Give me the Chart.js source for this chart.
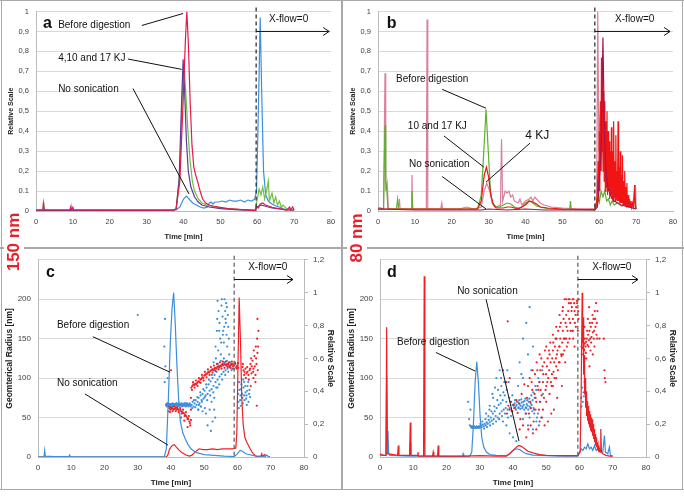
<!DOCTYPE html>
<html><head><meta charset="utf-8">
<script src="https://cdn.jsdelivr.net/npm/chart.js@4.4.1/dist/chart.umd.min.js"></script>
<style>
body{margin:0;background:#fff;width:684px;height:496px;position:relative;overflow:hidden;font-family:"Liberation Sans",Arial,sans-serif}
canvas{position:absolute}
.ln{position:absolute;background:#a9a9a9}
.tag{position:absolute;color:#e8202a;font-weight:bold;font-size:17px;background:#fff;transform:rotate(-90deg);white-space:nowrap;line-height:20px;height:20px;text-align:center}
</style></head><body>
<canvas id="ca" width="342" height="248" style="left:0;top:0"></canvas>
<canvas id="cb" width="342" height="248" style="left:342px;top:0"></canvas>
<canvas id="cc" width="342" height="248" style="left:0;top:248px"></canvas>
<canvas id="cd" width="342" height="248" style="left:342px;top:248px"></canvas>
<div class="ln" style="left:0;top:0;width:684px;height:1px"></div>
<div class="ln" style="left:1px;top:0;width:1px;height:489px"></div>
<div class="ln" style="left:682px;top:0;width:1px;height:489px"></div>
<div class="ln" style="left:0;top:489px;width:684px;height:1px"></div>
<div class="ln" style="left:341px;top:0;width:2px;height:489px"></div>
<div class="ln" style="left:0;top:247px;width:684px;height:2px"></div>
<div class="tag" style="left:-18px;top:232px;width:64px">150 nm</div>
<div class="tag" style="left:332px;top:228px;width:50px">80 nm</div>
<script>
// axis tick labels
const timeTicks = ['0', '10', '20', '30', '40', '50', '60', '70', '80'];
const relTicks = ['0', '0.1', '0,2', '0,3', '0,4', '0,5', '0,6', '0,7', '0,8', '0,9', '1'];
const rel2Ticks = ['0', '0,2', '0,4', '0,6', '0,8', '1', '1,2'];
const radiusTicks = ['0', '50', '100', '150', '200', ''];

// panel a: relative scale, 150 nm
const aRed = [[0,0.005],[1.8,0.005],[2,0.04],[2.2,0.01],[2.5,0.005],[9.2,0.005],[9.4,0.02],[9.6,0.005],[10,0.018],[10.2,0.005],[20,0.004],[30,0.004],[37,0.004],[38,0.01],[39,0.15],[39.8,0.5],[40.5,0.85],[40.9,1.0],[41.3,0.85],[41.8,0.55],[42.3,0.33],[42.8,0.22],[43.3,0.18],[43.8,0.15],[44.5,0.1],[45.2,0.06],[46,0.04],[47,0.03],[48,0.025],[50,0.018],[52,0.012],[55,0.008],[58,0.004],[59.5,0.003],[59.7,0.02],[60.3,0.015],[60.8,0.035],[61.5,0.04],[62.2,0.03],[63,0.025],[64,0.018],[65,0.015],[66,0.012],[67,0.008],[68,0.005],[68.8,0.02],[69,0.005],[69.6,0.02],[70,0.005]];
const aPurple = [[0,0.003],[37,0.003],[38,0.01],[38.8,0.15],[39.4,0.5],[39.9,0.76],[40.3,0.6],[40.8,0.35],[41.3,0.2],[42,0.12],[43,0.07],[44,0.045],[45,0.03],[47,0.02],[50,0.012],[55,0.006],[59.5,0.003],[60,0.02],[61,0.03],[62,0.025],[63,0.02],[64,0.015],[66,0.01],[68,0.005],[70,0.004]];
const aGreen = [[0,0.004],[1.9,0.004],[2.1,0.045],[2.3,0.005],[9.5,0.005],[9.7,0.02],[9.9,0.005],[37,0.004],[38,0.01],[39,0.2],[39.7,0.6],[40.2,0.72],[40.6,0.6],[41.2,0.4],[41.8,0.25],[42.4,0.15],[43,0.1],[44,0.06],[45,0.04],[47,0.025],[50,0.015],[55,0.008],[59.5,0.004],[60,0.06],[60.5,0.11],[61,0.08],[61.5,0.12],[62,0.06],[62.5,0.1],[63,0.15],[63.3,0.05],[64,0.09],[64.5,0.04],[65,0.07],[65.5,0.03],[66,0.05],[66.5,0.02],[67,0.03],[68,0.01],[70,0.005]];
const aBlue = [[0,0.003],[37,0.003],[38,0.005],[39,0.02],[40,0.06],[40.8,0.075],[41.5,0.06],[42.5,0.04],[43.5,0.03],[44.5,0.02],[45.5,0.015],[46.5,0.02],[47,0.04],[47.5,0.045],[48,0.035],[48.5,0.045],[49.5,0.045],[50.5,0.05],[51.5,0.045],[52.5,0.055],[53.5,0.05],[54.5,0.05],[55.5,0.055],[56.5,0.045],[57.5,0.055],[58.5,0.05],[59.3,0.06],[59.8,0.1],[60.3,0.5],[60.8,0.97],[61.2,0.6],[61.7,0.2],[62.3,0.08],[63,0.05],[64,0.035],[65,0.025],[66,0.02],[67,0.012],[67.8,0.005]];

// panel b: relative scale, 80 nm
const bGreen = [[0,0.01],[1.5,0.01],[1.9,0.43],[2.1,0.15],[2.4,0.1],[2.7,0.01],[5,0.01],[5.3,0.06],[5.6,0.01],[9,0.01],[9.2,0.1],[9.4,0.01],[15,0.01],[25,0.01],[27,0.01],[28,0.08],[28.7,0.3],[29.3,0.51],[29.9,0.3],[30.5,0.1],[31,0.04],[32,0.02],[33,0.02],[34,0.03],[35,0.04],[36,0.035],[37,0.02],[38,0.015],[39,0.02],[40,0.04],[41,0.05],[42,0.04],[43,0.025],[45,0.015],[47,0.01],[50,0.008],[52,0.01],[52.2,0.05],[52.4,0.008],[58.7,0.005],[59,0.03],[59.5,0.06],[60,0.04],[60.5,0.1],[61,0.07],[61.5,0.1],[62,0.05],[62.5,0.06],[63,0.03],[63.5,0.05],[64,0.03],[65,0.04],[66,0.025],[67,0.03],[68,0.02],[69,0.03],[69.7,0.05],[70,0.01]];
const bPink = [[0,0.02],[1.5,0.01],[1.9,0.69],[2.1,0.1],[2.5,0.14],[2.8,0.01],[5.5,0.01],[5.8,0.06],[6,0.01],[9,0.01],[9.2,0.18],[9.4,0.01],[13.1,0.01],[13.3,0.96],[13.5,0.01],[15,0.01],[17,0.01],[17.3,0.04],[17.5,0.01],[22,0.01],[24,0.02],[26,0.01],[28,0.02],[28.8,0.1],[29.5,0.14],[30.3,0.1],[31,0.04],[32,0.02],[33.2,0.03],[33.5,0.36],[33.8,0.05],[34.5,0.1],[35,0.09],[35.5,0.1],[36,0.07],[36.5,0.08],[37,0.05],[38,0.04],[38.5,0.06],[39,0.03],[40,0.05],[41,0.06],[41.5,0.07],[42,0.05],[42.5,0.07],[43,0.06],[44,0.04],[45,0.03],[47,0.02],[50,0.015],[55,0.01],[58.8,0.01],[59.3,0.05],[59.6,1.0],[59.9,0.3],[60.3,0.5],[60.6,0.2],[61,0.4],[61.5,0.15],[62,0.3],[62.5,0.1],[63,0.2],[63.5,0.08],[64,0.15],[65,0.06],[66,0.1],[67,0.04],[68,0.05],[69,0.02],[69.8,0.13],[70,0.01]];
const bRed = [[0,0.01],[5,0.01],[10,0.01],[20,0.01],[27,0.01],[28,0.05],[28.8,0.18],[29.4,0.22],[30,0.17],[30.6,0.08],[31.3,0.03],[32,0.015],[34,0.015],[35,0.02],[36,0.02],[37,0.015],[38,0.01],[39,0.02],[40,0.03],[41,0.05],[42,0.045],[43,0.035],[44,0.02],[46,0.015],[50,0.01],[55,0.008],[58.8,0.008],[59.3,0.03],[59.5,0.1],[59.7,0.25],[59.85,0.05],[60,0.4],[60.15,0.1],[60.3,0.55],[60.45,0.2],[60.6,0.77],[60.75,0.3],[60.9,0.7],[61.05,0.2],[61.2,0.6],[61.35,0.15],[61.5,0.55],[61.65,0.1],[61.8,0.45],[61.95,0.12],[62.1,0.5],[62.25,0.08],[62.4,0.4],[62.55,0.1],[62.7,0.35],[62.85,0.06],[63,0.3],[63.15,0.08],[63.3,0.42],[63.45,0.06],[63.6,0.3],[63.75,0.05],[63.9,0.45],[64.05,0.07],[64.2,0.25],[64.35,0.05],[64.5,0.38],[64.65,0.06],[64.8,0.2],[64.95,0.05],[65.1,0.45],[65.25,0.05],[65.4,0.22],[65.55,0.04],[65.7,0.3],[65.85,0.04],[66,0.18],[66.15,0.04],[66.3,0.28],[66.45,0.03],[66.6,0.15],[66.75,0.03],[66.9,0.2],[67.05,0.03],[67.2,0.12],[67.35,0.02],[67.5,0.14],[67.65,0.02],[67.8,0.08],[68,0.02],[68.2,0.06],[68.4,0.02],[68.6,0.05],[68.8,0.02],[69,0.04],[69.3,0.02],[69.6,0.13],[69.8,0.02],[70,0.01]];
const bDark = [[0,0.01],[10,0.005],[20,0.005],[28,0.005],[30,0.01],[35,0.005],[40,0.01],[45,0.005],[58.8,0.005],[59.5,0.02],[60.5,0.3],[61,0.87],[61.4,0.4],[61.8,0.2],[62.3,0.12],[63,0.08],[64,0.05],[66,0.03],[68,0.02],[70,0.01]];

// panel c: fractograms (relative scale) and radius (nm), 150 nm
const cBlue = [[0,0],[1.8,0.002],[2,0.04],[2.2,0.005],[5,0.002],[9.3,0.002],[9.5,0.012],[9.8,0.002],[20,0.001],[38,0.002],[38.6,0.05],[39.2,0.35],[39.8,0.7],[40.3,0.9],[40.8,1.0],[41.3,0.8],[41.8,0.55],[42.3,0.35],[42.8,0.22],[43.5,0.15],[44.3,0.11],[45,0.08],[46,0.05],[47,0.035],[48,0.025],[50,0.015],[53,0.01],[56,0.005],[59,0.003],[59.5,0.01],[60,0.02],[60.8,0.04],[61.5,0.035],[62.5,0.02],[63.5,0.015],[64.5,0.01],[66,0.005],[68,0.003],[68.8,0.012],[69.2,0.003],[69.8,0.002]];
const cRed = [[0,0],[38.5,0],[39,0.01],[39.6,0.05],[40.4,0.07],[41,0.075],[41.6,0.06],[42.5,0.04],[43.5,0.025],[44.5,0.012],[45.5,0.005],[46.2,0.01],[47,0.025],[47.8,0.04],[48.5,0.05],[49.5,0.045],[51,0.045],[52.5,0.05],[54,0.045],[55.5,0.05],[57,0.05],[58.5,0.05],[59.5,0.055],[59.8,0.15],[60.1,0.5],[60.5,0.97],[60.9,0.7],[61.3,0.35],[61.7,0.2],[62.2,0.12],[62.8,0.09],[63.3,0.07],[63.8,0.05],[64.4,0.03],[65,0.015],[65.5,0.005],[66,0.002],[67,0.005],[67.3,0.02],[67.5,0.003],[68.2,0.015],[68.5,0.002]];
const cBlueDots = [[38.5,66],[38.6,67],[38.7,64],[38.8,65],[38.9,68],[39,66],[39.1,66],[39.2,68],[39.3,65],[39.4,64],[39.5,67],[39.6,66],[39.7,66],[39.9,64],[40,67],[40.1,67],[40.3,66],[40.4,64],[40.5,68],[40.7,65],[40.8,67],[40.9,66],[41.1,67],[41.2,64],[41.3,65],[41.5,66],[41.6,68],[41.7,68],[41.9,66],[42,64],[42.1,65],[42.3,67],[42.4,68],[42.5,66],[42.7,65],[42.8,67],[42.9,67],[43.1,66],[43.2,68],[43.3,64],[43.5,66],[43.6,65],[43.7,67],[43.9,65],[44,68],[44.1,66],[44.3,68],[44.4,64],[44.5,66],[44.7,65],[44.8,68],[44.9,67],[45.1,66],[45.2,64],[45.3,65],[45.5,67],[45.6,68],[45.7,66],[45.9,64],[46.2,66],[46.4,62],[46.5,70],[46.8,64],[46.9,72],[47.1,68],[47.3,63],[47.4,72],[47.7,66],[47.9,76],[48,70],[48.2,60],[48.3,75],[48.4,66],[48.6,68],[48.8,82],[48.9,78],[49,64],[49.2,72],[49.3,70],[49.5,80],[49.7,86],[49.8,74],[50.1,84],[50.2,76],[50.4,78],[50.6,92],[50.7,88],[50.9,72],[51,80],[51.3,92],[51.4,98],[51.6,84],[51.8,78],[51.9,96],[52.2,86],[52.3,104],[52.5,100],[52.7,82],[52.8,90],[53.1,104],[53.2,110],[53.4,95],[53.6,88],[53.7,108],[54,98],[54.1,118],[54.3,112],[54.5,92],[54.6,102],[54.9,115],[55,122],[55.2,105],[55.4,98],[55.5,118],[55.8,108],[55.9,125],[56.1,120],[56.3,104],[56.4,110],[56.7,116],[56.8,122],[57,112],[57.2,108],[57.3,118],[57.6,114],[57.7,120],[58,116],[58.2,110],[58.4,112],[58.6,118],[52,33],[52.5,45],[53,60],[53.3,50],[53.4,140],[53.5,125],[53.8,160],[53.9,175],[54,198],[54.2,135],[54.3,185],[54.5,160],[54.6,170],[54.8,150],[55,130],[55.1,145],[55.2,192],[55.3,200],[55.5,178],[55.6,155],[55.7,160],[55.9,145],[56,165],[56.1,200],[56.3,185],[56.4,175],[56.5,170],[56.6,195],[56.7,155],[56.8,190],[56.9,140],[57.1,180],[57.2,165],[57.4,150],[57.5,130],[52.8,120],[51,40],[51.6,60],[52.2,70],[50.5,55],[50.2,62],[49.5,58],[49,64],[48.2,60],[53,75],[54,88],[30,180],[38.2,175],[38,140],[38.3,115],[38.1,95],[39,100],[60.2,80],[60.3,70],[60.4,62],[60.5,95],[60.6,85],[60.8,72],[60.9,78],[61,65],[61.1,86],[61.2,92],[61.4,80],[61.5,75],[61.6,68],[61.7,98],[61.8,88],[62,78],[62.1,72],[62.3,90],[62.4,82],[62.6,74],[62.7,78],[62.8,66],[62.9,84],[63,90],[63.2,95],[63.3,70],[63.5,80],[63.6,85],[62,95],[63.8,76]];
const cRedDots = [[39.2,58],[39.3,64],[39.5,62],[39.7,57],[39.8,60],[40,63],[40.1,61],[40.4,62],[40.5,58],[40.7,60],[40.9,64],[41,61],[41.3,62],[41.4,58],[41.6,60],[41.8,63],[41.9,61],[42.2,60],[42.3,57],[42.5,59],[42.7,62],[42.8,60],[43.1,58],[43.2,55],[43.4,57],[43.6,60],[43.7,56],[44,55],[44.1,52],[44.3,53],[44.5,57],[44.6,52],[44.9,50],[45,48],[45.2,48],[45.4,52],[45.5,45],[45.7,43],[45.8,40],[46,47],[46,75],[46.1,88],[46.3,85],[46.4,90],[46.6,95],[46.7,92],[47,91],[47.1,88],[47.3,93],[47.5,97],[47.6,92],[47.9,94],[48,90],[48.2,96],[48.4,100],[48.5,95],[48.8,98],[48.9,94],[49.1,99],[49.3,104],[49.4,101],[49.7,100],[49.8,97],[50,103],[50.2,108],[50.3,104],[50.6,105],[50.7,101],[50.9,106],[51.1,111],[51.2,108],[51.5,107],[51.6,104],[51.8,109],[52,114],[52.1,110],[52.4,111],[52.5,107],[52.7,110],[52.9,116],[53,112],[53.3,113],[53.4,109],[53.6,112],[53.8,118],[53.9,114],[54.2,115],[54.3,111],[54.5,114],[54.7,120],[54.8,116],[55.1,115],[55.2,112],[55.4,117],[55.6,121],[55.7,116],[56,118],[56.1,113],[56.3,117],[56.5,121],[56.6,116],[56.9,118],[57,114],[57.2,117],[57.4,120],[57.5,115],[57.8,116],[57.9,113],[58.1,118],[58.3,121],[58.4,117],[58.7,115],[58.8,112],[59,116],[59.2,120],[59.3,118],[59.6,114],[59.7,112],[59.9,116],[60.1,119],[60.2,113],[61.5,114],[61.6,118],[61.8,110],[62,104],[62.1,108],[62.4,112],[62.5,100],[62.7,106],[62.9,114],[63,108],[63.3,104],[63.4,98],[63.6,110],[63.8,112],[63.9,118],[64.1,125],[64.2,106],[64.3,115],[64.5,122],[64.7,108],[64.8,112],[64.9,135],[65.1,128],[65.2,115],[65.4,104],[65.5,140],[65.6,125],[65.7,118],[66,132],[66.1,110],[66.3,160],[64.8,100],[65.4,95],[66,175],[65.9,150],[66.2,140],[65.8,65],[64,90],[45,38],[44,46],[43,50],[40,110],[46,60]];

// panel d: fractograms (relative scale) and radius (nm), 80 nm
const dRed = [[0,0.02],[1,0.01],[1.8,0.01],[2,0.79],[2.2,0.02],[5.3,0.01],[5.5,0.07],[5.7,0.01],[8.9,0.01],[9.1,0.21],[9.3,0.01],[11.2,0.01],[11.4,0.03],[11.6,0.005],[13.1,0.005],[13.3,1.1],[13.5,0.005],[15.8,0.005],[16,0.03],[16.2,0.005],[17.3,0.005],[17.5,0.07],[17.7,0.005],[25,0.005],[30,0.008],[35,0.005],[38,0.005],[39,0.02],[40,0.04],[41,0.06],[41.8,0.07],[42.5,0.065],[43.5,0.05],[44.5,0.035],[46,0.025],[48,0.015],[50,0.01],[55,0.008],[59.5,0.008],[60.2,0.03],[60.5,0.4],[60.8,1.0],[60.95,0.7],[61.1,0.85],[61.25,0.5],[61.4,0.62],[61.55,0.38],[61.7,0.48],[61.85,0.3],[62,0.4],[62.15,0.25],[62.3,0.34],[62.45,0.22],[62.6,0.31],[62.75,0.2],[62.9,0.28],[63.05,0.18],[63.2,0.26],[63.35,0.16],[63.5,0.24],[63.65,0.15],[63.8,0.23],[63.95,0.13],[64.1,0.2],[64.25,0.11],[64.4,0.17],[64.55,0.09],[64.7,0.14],[64.85,0.07],[65,0.12],[65.15,0.06],[65.3,0.09],[65.45,0.04],[65.6,0.07],[65.8,0.03],[66,0.05],[66.2,0.03],[66.4,0.17],[66.6,0.03],[67,0.02],[68,0.01],[69,0.005],[70,0.005]];
const dBlue = [[0,0.01],[1.8,0.01],[2,0.49],[2.2,0.1],[2.4,0.16],[2.6,0.02],[3,0.01],[8.9,0.005],[9.1,0.09],[9.3,0.005],[15,0.005],[20,0.004],[24.8,0.004],[25,0.02],[25.2,0.004],[27,0.005],[27.6,0.03],[28.1,0.2],[28.6,0.45],[29.1,0.58],[29.6,0.45],[30.1,0.25],[30.6,0.12],[31.2,0.06],[32,0.03],[33,0.015],[35,0.01],[38,0.008],[39,0.02],[40,0.04],[41,0.05],[42,0.045],[43,0.03],[44,0.02],[46,0.012],[50,0.008],[55,0.005],[59.5,0.005],[60,0.03],[60.5,0.05],[61,0.04],[61.5,0.06],[62,0.05],[62.5,0.08],[63,0.05],[63.5,0.06],[64,0.04],[64.5,0.07],[65,0.04],[65.5,0.05],[66,0.035],[67,0.03],[67.5,0.13],[67.8,0.03],[68.5,0.02],[69,0.06],[69.3,0.01],[70,0.005]];
const dBlueDots = [[26.5,70],[26.8,48],[27,40],[27.2,60],[27.4,38],[27.5,39],[27.6,37],[27.8,39],[27.9,37],[28,38],[28.2,37],[28.3,39],[28.4,38],[28.6,37],[28.7,38],[28.8,38],[29,37],[29.1,39],[29.2,38],[29.4,37],[29.5,38],[29.6,38],[29.8,39],[29.9,37],[30,38],[30.2,42],[30.3,40],[30.6,38],[30.8,45],[30.9,41],[31.2,39],[31.3,36],[31.5,42],[31.7,48],[31.8,40],[32.1,44],[32.2,38],[32.4,42],[32.6,52],[32.7,47],[33,44],[33.1,40],[33.3,50],[33.5,58],[33.6,46],[33.9,55],[34,42],[34.2,48],[34.4,64],[34.5,58],[34.8,52],[34.9,45],[35.1,62],[35.3,72],[35.4,50],[35.7,66],[35.8,48],[36,55],[36.2,78],[36.3,68],[36.6,58],[36.7,52],[36.9,72],[37.1,82],[37.2,60],[37.5,78],[37.6,55],[37.8,62],[38,70],[38.1,85],[38.4,60],[38.5,50],[38.7,95],[38.9,75],[39,62],[39.3,70],[39.4,52],[39.6,58],[39.8,78],[39.9,66],[34,75],[35,100],[36,110],[36.4,100],[37.4,95],[38.3,110],[34.6,88],[33.8,80],[32.9,60],[31.9,55],[35.5,85],[33,65],[37,45],[38,40],[39,30],[40,25],[41,20],[36.5,90],[40.2,65],[40.3,62],[40.5,68],[40.6,72],[40.8,64],[40.9,60],[41.1,66],[41.2,70],[41.4,70],[41.6,62],[41.7,63],[41.9,72],[42,67],[42.2,61],[42.3,65],[42.5,73],[42.6,69],[42.8,62],[42.9,64],[43.1,70],[43.2,66],[43.4,60],[43.5,71],[43.7,74],[43.8,63],[44,62],[44.1,67],[44.3,72],[44.4,65],[44.6,60],[44.7,70],[44.9,74],[45,64],[45.2,62],[45.3,68],[45.5,78],[45.6,66],[45.8,58],[45.9,72],[46.1,82],[46.2,62],[46.4,55],[46.5,75],[46.7,90],[46.8,60],[47,85],[47.2,50],[47.5,55],[47.6,100],[48,95],[48.2,70],[48.5,50],[48.8,110],[49,80],[42,120],[43,150],[44,170],[44.5,130],[45,190],[45.5,110],[41.5,90],[42.5,105],[43,100],[46,140],[47,45],[47.8,40],[46,35],[45,50],[44.5,40],[44,55],[43,48],[60.5,75],[60.6,64],[60.8,88],[61,70],[61.2,82],[61.3,77],[61.5,95]];
const dRedDots = [[38.2,55],[38.4,172],[38.6,65],[39,60],[39.4,70],[39.8,58],[40.2,66],[40.6,62],[41,72],[41.4,56],[41.8,68],[42.2,48],[42.6,80],[43,40],[43.4,92],[43.8,55],[44.2,75],[44.5,90],[44.6,35],[44.8,55],[45,100],[45.2,70],[45.3,40],[45.4,62],[45.6,95],[45.8,85],[45.9,110],[46.2,45],[46.4,60],[46.5,80],[46.6,105],[46.8,75],[47,70],[47.1,120],[47.3,110],[47.4,90],[47.6,85],[47.8,60],[47.9,95],[48.1,70],[48.2,110],[48.3,85],[48.5,125],[48.6,78],[48.7,50],[48.9,115],[49,95],[49.1,105],[49.3,75],[49.4,120],[49.5,40],[49.6,135],[49.8,85],[49.9,105],[50,90],[50.2,115],[50.3,95],[50.4,125],[50.5,45],[50.6,100],[50.8,135],[50.9,110],[51,130],[51.2,145],[51.3,120],[51.4,95],[51.5,55],[51.6,90],[51.7,105],[51.8,125],[52,135],[52.1,145],[52.2,108],[52.3,60],[52.4,120],[52.5,100],[52.6,140],[52.8,150],[52.9,125],[53,115],[53.1,150],[53.2,130],[53.3,75],[53.4,135],[53.5,110],[53.6,160],[53.8,120],[53.9,140],[54,140],[54.1,165],[54.2,150],[54.4,170],[54.5,130],[54.6,128],[54.7,90],[54.8,145],[54.9,185],[55,160],[55.2,175],[55.3,150],[55.4,135],[55.5,200],[55.6,150],[55.7,120],[55.8,170],[56,180],[56.1,165],[56.2,140],[56.4,160],[56.5,145],[56.6,185],[56.7,200],[56.8,195],[56.9,175],[57,150],[57.2,170],[57.3,160],[57.4,195],[57.6,185],[57.7,190],[57.8,160],[57.9,200],[58,175],[58.1,150],[58.2,200],[58.4,195],[58.5,185],[58.6,170],[58.8,180],[58.9,165],[59,190],[59.2,198],[59.3,195],[59.4,180],[59.6,185],[59.7,175],[59.8,200],[57,200],[56,200],[55,190],[54,180],[53,165],[52,155],[50,140],[48,130],[58,160],[56,150],[55,130],[54,120],[53,100],[52,90],[51,80],[50,70],[49,60],[48,45],[47,35],[46,30],[44,25],[42,35],[38,95],[39,100],[37,110],[58.5,140],[59.5,160],[60.6,140],[60.7,130],[60.8,145],[60.9,155],[61,138],[61,150],[61.2,142],[61.3,135],[61.4,136],[61.6,144],[61.6,150],[61.8,140],[61.9,132],[62,146],[62.2,150],[62.3,160],[62.4,142],[62.6,155],[62.7,140],[62.8,148],[62.9,190],[63,160],[63.1,170],[63.2,150],[63.3,135],[63.4,165],[63.5,145],[63.6,152],[63.8,170],[63.9,180],[64,158],[64.2,175],[64.3,150],[64.4,160],[64.5,140],[64.6,185],[64.7,175],[64.8,165],[65,195],[65.1,155],[65.2,170],[65.3,150],[65.4,185],[62,125],[63,115],[64,130],[62.5,175],[61.5,165],[66,150],[67.3,150],[67.5,110],[67.6,100],[67.8,95]];

Chart.defaults.font.family = '"Liberation Sans", Arial, sans-serif';

// labels, leader lines, dashed x-flow marker drawn through the chart scales
const notesPlugin = {
  id: 'notes',
  afterDatasetsDraw(chart, args, o) {
    const ctx = chart.ctx;
    const xs = chart.scales.x, ys = chart.scales.y;
    const px = v => xs.getPixelForValue(v), py = v => ys.getPixelForValue(v);
    const area = chart.chartArea;
    ctx.save();
    ctx.strokeStyle = o.dashColor;
    ctx.lineWidth = 1.3;
    ctx.setLineDash([4, 3]);
    ctx.beginPath();
    ctx.moveTo(px(o.dashX), area.top - 4);
    ctx.lineTo(px(o.dashX), area.bottom);
    ctx.stroke();
    ctx.setLineDash([]);
    // arrow
    ctx.strokeStyle = '#111';
    ctx.lineWidth = 1;
    const ay = py(o.arrowY), ax = px(o.arrowEnd);
    ctx.beginPath();
    ctx.moveTo(px(o.dashX), ay);
    ctx.lineTo(ax, ay);
    ctx.moveTo(ax - 6, ay - 4);
    ctx.lineTo(ax, ay);
    ctx.lineTo(ax - 6, ay + 4);
    ctx.stroke();
    ctx.beginPath();
    o.leaders.forEach(l => {
      ctx.moveTo(px(l[0]), py(l[1]));
      ctx.lineTo(px(l[2]), py(l[3]));
    });
    ctx.stroke();
    ctx.fillStyle = '#111';
    ctx.textBaseline = 'middle';
    ctx.textAlign = 'left';
    o.texts.forEach(t => {
      ctx.font = (t.bold ? 'bold ' : '') + (t.size || 10) + 'px "Liberation Sans", Arial, sans-serif';
      ctx.fillText(t.s, px(t.x), py(t.y));
    });
    ctx.restore();
  }
};

function lineSet(data, color, axis) {
  return { data, showLine: true, borderColor: color, borderWidth: 1.2, pointRadius: 0, yAxisID: axis || 'y' };
}
function dotSet(data, color) {
  return { data, showLine: false, backgroundColor: color, borderWidth: 0, pointRadius: 1.1, yAxisID: 'y' };
}

const xAxis = (h, size, titlePad) => ({
  type: 'linear', min: 0, max: 80,
  ticks: { stepSize: 10, padding: 6, color: '#404040', font: { size: size }, maxRotation: 0, callback: (v, i) => timeTicks[i] },
  grid: { display: false, drawTicks: false },
  border: { color: '#bcbcbc' },
  title: { display: true, text: 'Time [min]', color: '#222', font: { size: size, weight: 'bold' }, padding: { top: 0, bottom: titlePad } },
  afterFit: s => { s.height = h; }
});

function relChart(id, datasets, notes) {
  return new Chart(document.getElementById(id), {
    type: 'scatter',
    data: { datasets },
    options: {
      responsive: false, animation: false, devicePixelRatio: 1,
      layout: { padding: { top: 9, right: 11, left: 0, bottom: 0 } },
      plugins: { legend: { display: false }, tooltip: { enabled: false }, notes },
      scales: {
        x: xAxis(37, 7.5, 7),
        y: {
          min: 0, max: 1,
          ticks: { stepSize: 0.1, padding: 7, color: '#404040', font: { size: 7.5 }, callback: (v, i) => relTicks[i] },
          grid: { color: '#d9d9d9', drawTicks: false },
          border: { color: '#bcbcbc' },
          title: { display: true, text: 'Relative Scale', color: '#222', font: { family: '"Liberation Sans Narrow", "Liberation Sans", Arial, sans-serif', size: 7, weight: 'bold' }, padding: { top: 7, bottom: 0 } },
          afterFit: s => { s.width = 36; }
        }
      }
    },
    plugins: [notesPlugin]
  });
}

function radiusChart(id, datasets, notes, leftTitle) {
  return new Chart(document.getElementById(id), {
    type: 'scatter',
    data: { datasets },
    options: {
      responsive: false, animation: false, devicePixelRatio: 1,
      layout: { padding: { top: 9, right: 0, left: 0, bottom: 0 } },
      plugins: { legend: { display: false }, tooltip: { enabled: false }, notes },
      scales: {
        x: xAxis(39, 8, 8),
        y: {
          position: 'left', min: 0, max: 250,
          ticks: { stepSize: 50, padding: 7, color: '#404040', font: { size: 8 }, callback: (v, i) => radiusTicks[i] },
          grid: { color: '#d9d9d9', drawTicks: false },
          border: { color: '#bcbcbc' },
          title: { display: true, text: leftTitle, color: '#222', font: { size: 8.5, weight: 'bold' }, padding: { top: 5, bottom: 0 } },
          afterFit: s => { s.width = 38; }
        },
        y2: {
          position: 'right', min: 0, max: 1.2,
          ticks: { stepSize: 0.2, padding: 5, color: '#404040', font: { size: 8 }, callback: (v, i) => rel2Ticks[i] },
          grid: { drawOnChartArea: false, tickLength: 4, color: '#bcbcbc' },
          border: { color: '#bcbcbc' },
          title: { display: true, text: 'Relative Scale', color: '#222', font: { size: 8.5, weight: 'bold' }, padding: { top: 7, bottom: 0 } },
          afterFit: s => { s.width = 38; }
        }
      }
    },
    plugins: [notesPlugin]
  });
}

relChart('ca', [
  lineSet(aRed, '#e6194b'),
  lineSet(aPurple, '#5b3b9c'),
  lineSet(aGreen, '#72bf44'),
  lineSet(aBlue, '#3d8fe0')
], {
  dashX: 59.7, dashColor: '#333', arrowY: 0.9, arrowEnd: 79.5,
  leaders: [[28.7, 0.93, 39.9, 0.99], [24.9, 0.762, 39.5, 0.71], [26.3, 0.614, 41.5, 0.085]],
  texts: [
    { s: 'a', x: 1.9, y: 0.94, size: 16, bold: true },
    { s: 'Before digestion', x: 6.0, y: 0.93 },
    { s: '4,10 and 17 KJ', x: 6.0, y: 0.767 },
    { s: 'No sonication', x: 6.0, y: 0.609 },
    { s: 'X-flow=0', x: 63.2, y: 0.96 }
  ]
});

relChart('cb', [
  lineSet(bDark, '#a3174a'),
  lineSet(bRed, '#f01414'),
  lineSet(bGreen, '#5fb030'),
  lineSet(bPink, '#d9809c')
], {
  dashX: 58.8, dashColor: '#333', arrowY: 0.9, arrowEnd: 79.2,
  leaders: [[17.4, 0.61, 29.3, 0.515], [17.9, 0.376, 28.7, 0.22], [41.2, 0.34, 29.3, 0.145], [17.4, 0.173, 29.3, 0.01]],
  texts: [
    { s: 'b', x: 2.4, y: 0.94, size: 16, bold: true },
    { s: 'Before digestion', x: 4.9, y: 0.66 },
    { s: '10 and 17 KJ', x: 8.1, y: 0.425 },
    { s: '4 KJ', x: 39.9, y: 0.376, size: 12 },
    { s: 'No sonication', x: 8.4, y: 0.233 },
    { s: 'X-flow=0', x: 64.3, y: 0.96 }
  ]
});

radiusChart('cc', [
  lineSet(cBlue, '#3b8edb', 'y2'),
  lineSet(cRed, '#ee1f25', 'y2'),
  dotSet(cRedDots, '#ee1f25'),
  dotSet(cBlueDots, '#3b8edb')
], {
  dashX: 59, dashColor: '#666', arrowY: 225, arrowEnd: 76.7,
  leaders: [[16.5, 152.5, 39.7, 107.5], [14.1, 80, 39.1, 15]],
  texts: [
    { s: 'c', x: 2.4, y: 234, size: 16, bold: true },
    { s: 'Before digestion', x: 5.7, y: 167.5 },
    { s: 'No sonication', x: 5.7, y: 94 },
    { s: 'X-flow=0', x: 63.2, y: 241 }
  ]
}, 'Geomterical Radius [nm]');

radiusChart('cd', [
  lineSet(dRed, '#ee1f25', 'y2'),
  lineSet(dBlue, '#3b8edb', 'y2'),
  dotSet(dRedDots, '#ee1f25'),
  dotSet(dBlueDots, '#3b8edb')
], {
  dashX: 59.5, dashColor: '#666', arrowY: 225, arrowEnd: 77.6,
  leaders: [[16.8, 132.5, 28.6, 109], [31.9, 200, 41.8, 20]],
  texts: [
    { s: 'd', x: 2.1, y: 234, size: 16, bold: true },
    { s: 'Before digestion', x: 5.1, y: 146 },
    { s: 'No sonication', x: 23.2, y: 210 },
    { s: 'X-flow=0', x: 63.8, y: 241 }
  ]
}, 'Geometrical Radius [nm]');
</script>
</body></html>
